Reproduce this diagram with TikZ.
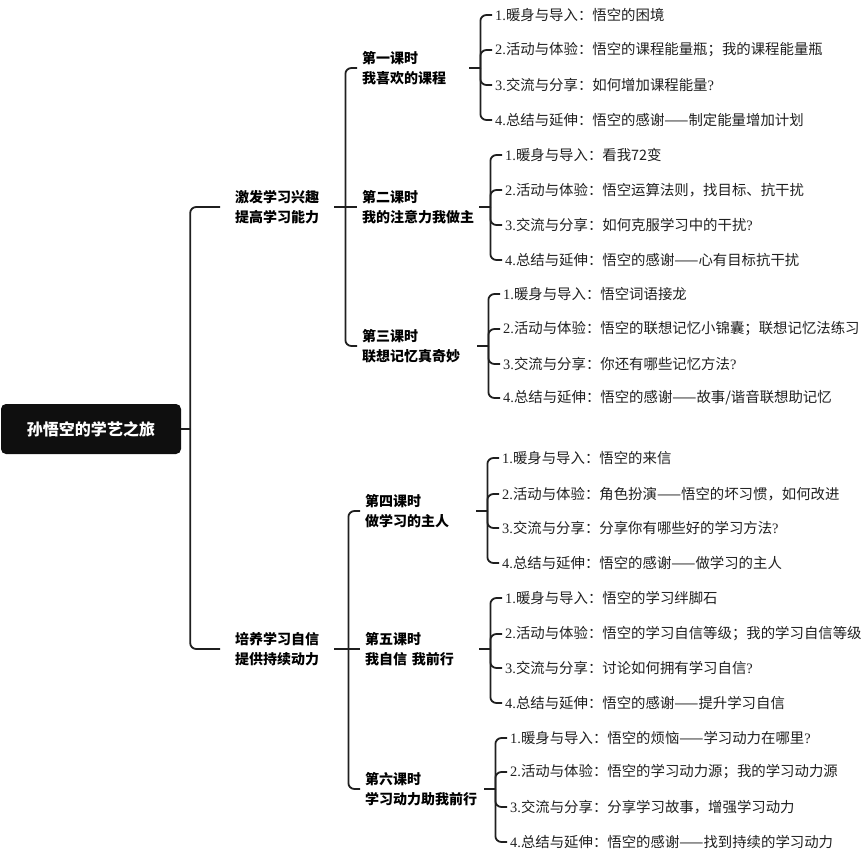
\documentclass[tikz,border=0pt]{standalone}
\usepackage{fontspec}
\setmainfont{Liberation Serif}
\newfontfamily\cjk{Noto Sans CJK SC}
\usepackage{tikz}
\usetikzlibrary{calc}
\newcommand{\Nr}[1]{{\rmfamily #1.}}
\newcommand{\Qm}{{\rmfamily ?}}

\begin{document}
\begin{tikzpicture}[
x=1pt, y=-1pt,
Root/.style={fill=black!94,text=white,rounded corners=5pt,minimum width=180pt,minimum height=50pt,inner sep=0pt,font=\cjk\bfseries\fontsize{16}{20}\selectfont},
Topic/.style={anchor=west,align=left,inner xsep=15pt,inner ysep=1pt,font=\cjk\bfseries\fontsize{14}{20}\selectfont},
Lesson/.style={anchor=west,align=left,inner xsep=5pt,inner ysep=1pt,font=\cjk\bfseries\fontsize{14}{20}\selectfont},
Item/.style={anchor=west,inner xsep=3pt,inner ysep=1pt,text=black!88,font=\cjk\fontsize{14.4}{18}\selectfont},
Trunk/.style={draw=black!88,line width=1.8pt},
Branch/.style={Trunk,rounded corners=6pt}
]
\useasboundingbox (0,0) rectangle (864,854);

% root and the two aims
\node[Root] (root) at (91,429) {孙悟空的学艺之旅};
\node[Topic] (ta) at (220,207) {激发学习兴趣\\提高学习能力};
\node[Topic] (tb) at (220,649) {培养学习自信\\提供持续动力};

\coordinate (jr) at ([xshift=9pt]root.east);
\draw[Trunk] (root.east) -- (jr);
\draw[Branch] (jr) |- (ta.west);
\draw[Branch] (jr) |- (tb.west);

% lessons
\node[Lesson,text width=102pt] (les1) at (357,68) {第一课时\\我喜欢的课程};
\node[Lesson,text width=112pt] (les2) at (357,207) {第二课时\\我的注意力我做主};
\node[Lesson,text width=110pt] (les3) at (357,346) {第三课时\\联想记忆真奇妙};
\node[Lesson,text width=106pt] (les4) at (360,511) {第四课时\\做学习的主人};
\node[Lesson,text width=109pt] (les5) at (360,649) {第五课时\\我自信 我前行};
\node[Lesson,text width=114pt] (les6) at (360,789) {第六课时\\学习动力助我前行};

\coordinate (ja) at ([xshift=11pt]ta.east);
\draw[Trunk] (ta.east) -- (ja);
\draw[Branch] (ja) |- (les1.west);
\draw[Trunk] (ja) -- (les2.west);
\draw[Branch] (ja) |- (les3.west);

\coordinate (jb) at ([xshift=14pt]tb.east);
\draw[Trunk] (tb.east) -- (jb);
\draw[Branch] (jb) |- (les4.west);
\draw[Trunk] (jb) -- (les5.west);
\draw[Branch] (jb) |- (les6.west);

% steps of lesson 1
\node[Item] (l1i1) at (492,15) {\Nr{1}暖身与导入：悟空的困境};
\node[Item] (l1i2) at (492,50) {\Nr{2}活动与体验：悟空的课程能量瓶；我的课程能量瓶};
\node[Item] (l1i3) at (492,85) {\Nr{3}交流与分享：如何增加课程能量\Qm};
\node[Item] (l1i4) at (492,120) {\Nr{4}总结与延伸：悟空的感谢——制定能量增加计划};

% steps of lesson 2
\node[Item] (l2i1) at (502,155) {\Nr{1}暖身与导入：看我72变};
\node[Item] (l2i2) at (502,190) {\Nr{2}活动与体验：悟空运算法则，找目标、抗干扰};
\node[Item] (l2i3) at (502,225) {\Nr{3}交流与分享：如何克服学习中的干扰\Qm};
\node[Item] (l2i4) at (502,260) {\Nr{4}总结与延伸：悟空的感谢——心有目标抗干扰};

% steps of lesson 3
\node[Item] (l3i1) at (500,294) {\Nr{1}暖身与导入：悟空词语接龙};
\node[Item] (l3i2) at (500,329) {\Nr{2}活动与体验：悟空的联想记忆小锦囊；联想记忆法练习};
\node[Item] (l3i3) at (500,364) {\Nr{3}交流与分享：你还有哪些记忆方法\Qm};
\node[Item] (l3i4) at (500,398) {\Nr{4}总结与延伸：悟空的感谢——故事/谐音联想助记忆};

% steps of lesson 4
\node[Item] (l4i1) at (499,458) {\Nr{1}暖身与导入：悟空的来信};
\node[Item] (l4i2) at (499,494) {\Nr{2}活动与体验：角色扮演——悟空的坏习惯，如何改进};
\node[Item] (l4i3) at (499,528) {\Nr{3}交流与分享：分享你有哪些好的学习方法\Qm};
\node[Item] (l4i4) at (499,563) {\Nr{4}总结与延伸：悟空的感谢——做学习的主人};

% steps of lesson 5
\node[Item] (l5i1) at (502,598) {\Nr{1}暖身与导入：悟空的学习绊脚石};
\node[Item] (l5i2) at (502,634) {\Nr{2}活动与体验：悟空的学习自信等级；我的学习自信等级};
\node[Item] (l5i3) at (502,668) {\Nr{3}交流与分享：讨论如何拥有学习自信\Qm};
\node[Item] (l5i4) at (502,703) {\Nr{4}总结与延伸：悟空的感谢——提升学习自信};

% steps of lesson 6
\node[Item] (l6i1) at (507,738) {\Nr{1}暖身与导入：悟空的烦恼——学习动力在哪里\Qm};
\node[Item] (l6i2) at (507,772) {\Nr{2}活动与体验：悟空的学习动力源；我的学习动力源};
\node[Item] (l6i3) at (507,807) {\Nr{3}交流与分享：分享学习故事，增强学习动力};
\node[Item] (l6i4) at (507,842) {\Nr{4}总结与延伸：悟空的感谢——找到持续的学习动力};

\foreach \k in {1,...,6}{
  \coordinate (j\k) at ([xshift=11pt]les\k.east);
  \draw[Trunk] (les\k.east) -- (j\k);
  \foreach \i in {1,...,4}
    \draw[Branch] (j\k) |- (l\k i\i.west);
}

\end{tikzpicture}
\end{document}
